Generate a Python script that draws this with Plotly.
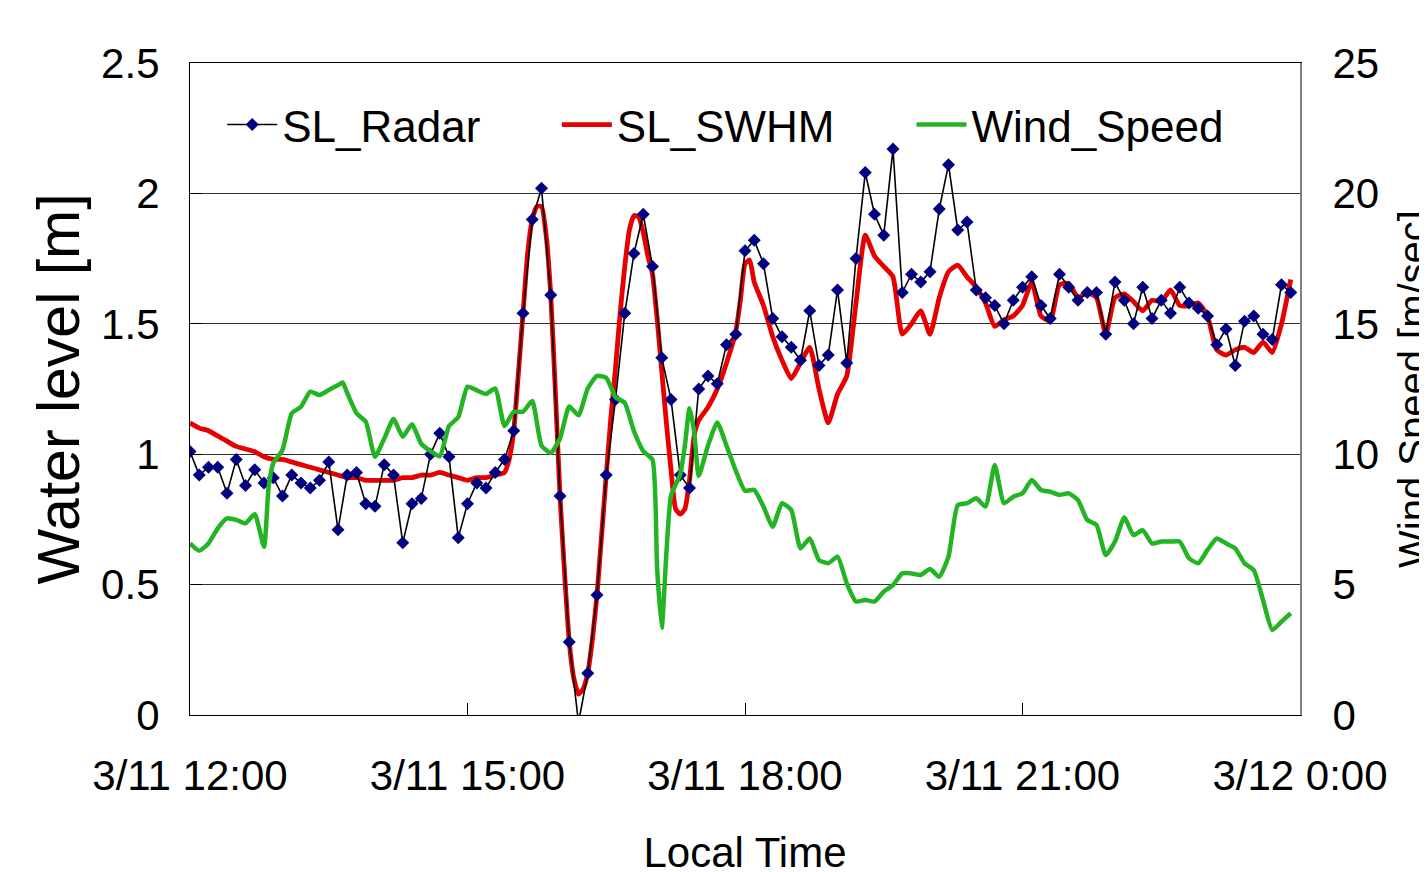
import pandas as pd
import plotly.graph_objects as go

# ---------------- data ----------------
start_time = "2011-03-11 12:00"
end_time = "2011-03-12 00:00"
step_minutes = 6

# SL_Radar water level [m], every 6 minutes from 12:00
radar_level = [
    1.01, 0.92, 0.95, 0.95, 0.85, 0.98, 0.88, 0.94, 0.89, 0.91,
    0.84, 0.92, 0.89, 0.87, 0.90, 0.97, 0.71, 0.92, 0.93, 0.81,
    0.80, 0.96, 0.92, 0.66, 0.81, 0.83, 1.00, 1.08, 0.99, 0.68,
    0.81, 0.89, 0.87, 0.93, 0.98, 1.09, 1.54, 1.90, 2.02, 1.61,
    0.84, 0.28, -0.03, 0.16, 0.46, 0.92, 1.21, 1.54, 1.77, 1.92,
    1.72, 1.37, 1.21, 0.92, 0.87, 1.25, 1.30, 1.27, 1.42, 1.46,
    1.78, 1.82, 1.73, 1.52, 1.45, 1.41, 1.36, 1.55, 1.34, 1.38,
    1.63, 1.35, 1.75, 2.08, 1.92, 1.84, 2.17, 1.62, 1.69, 1.66,
    1.70, 1.94, 2.11, 1.86, 1.89, 1.63, 1.60, 1.57, 1.50, 1.59,
    1.64, 1.68, 1.57, 1.52, 1.69, 1.64, 1.59, 1.62, 1.62, 1.46,
    1.66, 1.59, 1.50, 1.64, 1.52, 1.59, 1.54, 1.64, 1.58, 1.56,
    1.53, 1.42, 1.48, 1.34, 1.51, 1.53, 1.46, 1.44, 1.65, 1.62,
]

# SL_SWHM water level [m]; sample steps (1 step = 6 minutes after 12:00)
swhm_steps = [
    0, 1, 2, 3, 4, 5, 6, 7, 8, 9, 10, 11, 12, 13, 14, 15, 16, 17, 18, 19,
    20, 21, 22, 23, 24, 25, 26, 27, 28, 29, 30, 31, 32, 33, 34, 34.5, 35, 35.5,
    36, 36.5, 37, 37.5, 38, 38.5, 39, 39.5, 40, 40.5, 41, 41.5, 42, 42.5, 43,
    43.5, 44, 44.5, 45, 45.5, 46, 46.5, 47, 47.5, 48, 48.5, 49, 49.5, 50, 50.5,
    51, 51.5, 52, 52.5, 53, 53.5, 54, 54.5, 55, 56, 57, 58, 59, 59.5, 60, 60.5,
    61, 62, 63, 64, 65, 66, 67, 68, 69, 70, 71, 72, 73, 74, 75, 76, 77, 78, 79,
    80, 81, 82, 83, 84, 85, 86, 87, 88, 89, 90, 91, 92, 93, 94, 95, 96, 97, 98,
    99, 100, 101, 102, 103, 104, 105, 106, 107, 108, 109, 110, 111, 112, 113,
    114, 115, 116, 117, 118, 119,
]
swhm_level = [
    1.12, 1.10, 1.09, 1.07, 1.05, 1.03, 1.02, 1.01, 0.99, 0.98, 0.98, 0.97,
    0.96, 0.95, 0.94, 0.93, 0.92, 0.91, 0.91, 0.90, 0.90, 0.90, 0.90, 0.91,
    0.91, 0.92, 0.92, 0.93, 0.92, 0.91, 0.90, 0.91, 0.91, 0.92, 0.93, 0.98,
    1.09, 1.31, 1.54, 1.77, 1.90, 1.95, 1.95, 1.84, 1.61, 1.24, 0.84, 0.54,
    0.28, 0.14, 0.08, 0.10, 0.16, 0.29, 0.46, 0.69, 0.92, 1.14, 1.33, 1.54,
    1.72, 1.86, 1.915, 1.91, 1.85, 1.76, 1.69, 1.52, 1.32, 1.12, 0.94, 0.79,
    0.77, 0.79, 0.90, 1.07, 1.13, 1.18, 1.25, 1.35, 1.47, 1.59, 1.73, 1.745,
    1.66, 1.57, 1.45, 1.36, 1.29, 1.35, 1.41, 1.25, 1.12, 1.23, 1.30, 1.58,
    1.84, 1.76, 1.72, 1.68, 1.46, 1.50, 1.55, 1.46, 1.60, 1.70, 1.725, 1.68,
    1.64, 1.58, 1.49, 1.515, 1.53, 1.57, 1.66, 1.53, 1.51, 1.65, 1.655, 1.60,
    1.62, 1.60, 1.46, 1.60, 1.615, 1.585, 1.55, 1.59, 1.585, 1.63, 1.57, 1.57,
    1.58, 1.53, 1.40, 1.38, 1.40, 1.41, 1.39, 1.43, 1.39, 1.50, 1.67,
]

# Wind speed [m/sec]; sample steps (1 step = 6 minutes after 12:00)
wind_steps = [
    0, 1, 2, 3, 4, 5, 6, 7, 8, 8.5, 9, 10, 11, 12, 13, 14, 15, 16, 16.5, 17,
    18, 19, 20, 21, 22, 23, 24, 25, 26, 27, 28, 29, 30, 31, 32, 33, 34, 35, 36,
    37, 38, 39, 40, 41, 42, 43, 44, 45, 46, 47, 48, 49, 50, 50.5, 51, 51.5, 52,
    53, 53.5, 54, 54.5, 55, 56, 57, 58, 59, 60, 61, 62, 63, 64, 65, 66, 67, 68,
    69, 70, 71, 72, 73, 74, 75, 76, 77, 78, 79, 80, 81, 82, 83, 84, 85, 86, 87,
    88, 89, 90, 91, 92, 93, 94, 95, 96, 97, 98, 99, 100, 101, 102, 103, 104,
    105, 106, 107, 108, 109, 110, 111, 112, 113, 114, 115, 116, 117, 118, 119,
]
wind_speed = [
    6.58, 6.30, 6.58, 7.16, 7.54, 7.48, 7.35, 7.70, 6.45, 8.75, 9.65, 10.16,
    11.57, 11.82, 12.40, 12.27, 12.46, 12.65, 12.75, 12.34, 11.57, 11.25, 9.90,
    10.60, 11.35, 10.67, 11.15, 10.40, 10.12, 9.92, 11.08, 11.42, 12.59, 12.45,
    12.31, 12.52, 11.08, 11.63, 11.63, 12.04, 10.33, 10.05, 10.60, 11.83, 11.49,
    12.52, 13.00, 12.93, 12.18, 11.97, 10.88, 10.12, 9.78, 5.60, 3.35, 6.20,
    8.41, 9.23, 10.33, 11.76, 10.88, 9.17, 10.33, 11.22, 10.33, 9.37, 8.60,
    8.63, 7.99, 7.22, 8.12, 7.86, 6.39, 6.77, 5.94, 5.82, 6.07, 5.05, 4.35,
    4.41, 4.35, 4.73, 4.98, 5.43, 5.43, 5.37, 5.60, 5.30, 6.07, 8.05, 8.12,
    8.31, 7.99, 9.59, 8.12, 8.37, 8.50, 9.01, 8.63, 8.56, 8.44, 8.50, 8.24,
    7.48, 7.29, 6.13, 6.65, 7.57, 6.90, 7.09, 6.58, 6.65, 6.65, 6.65, 6.01,
    5.82, 6.33, 6.77, 6.58, 6.39, 5.82, 5.56, 4.41, 3.26, 3.58, 3.90,
]

tick_times = ["2011-03-11 12:00", "2011-03-11 15:00", "2011-03-11 18:00",
              "2011-03-11 21:00", "2011-03-12 00:00"]
tick_labels = ["3/11 12:00", "3/11 15:00", "3/11 18:00", "3/11 21:00", "3/12 0:00"]

series_names = ["SL_Radar", "SL_SWHM", "Wind_Speed"]

# ---------------- build ----------------
t0 = pd.Timestamp(start_time)
radar_time = [t0 + pd.Timedelta(minutes=step_minutes * i) for i in range(len(radar_level))]
swhm_time = [t0 + pd.Timedelta(minutes=step_minutes * s) for s in swhm_steps]
wind_time = [t0 + pd.Timedelta(minutes=step_minutes * s) for s in wind_steps]

FONT = "Liberation Sans, Arial, sans-serif"

fig = go.Figure()
fig.add_trace(go.Scatter(
    x=wind_time, y=wind_speed, name=series_names[2], yaxis="y2",
    mode="lines", line=dict(color="#22B422", width=4.5, shape="spline", smoothing=0.5),
    legend="legend3",
))
fig.add_trace(go.Scatter(
    x=swhm_time, y=swhm_level, name=series_names[1],
    mode="lines", line=dict(color="#E60000", width=4.8, shape="spline", smoothing=0.5),
    legend="legend2",
))
fig.add_trace(go.Scatter(
    x=radar_time, y=radar_level, name=series_names[0],
    mode="lines+markers", line=dict(color="black", width=1.6),
    marker=dict(symbol="diamond", size=10, color="#000080"), legend="legend",
))

legend_common = dict(
    orientation="h", bgcolor="rgba(0,0,0,0)", borderwidth=0,
    font=dict(family=FONT, size=44, color="black"),
    xanchor="left", yanchor="middle", itemwidth=50,
)

fig.update_layout(
    width=1427, height=872,
    paper_bgcolor="white", plot_bgcolor="white",
    margin=dict(l=182, r=135, t=55, b=165, autoexpand=False),
    font=dict(family=FONT, color="black"),
    showlegend=True,
    legend=dict(**legend_common, x=0.029, y=0.905),
    legend2=dict(**legend_common, x=0.3305, y=0.905),
    legend3=dict(**legend_common, x=0.650, y=0.905),
    xaxis=dict(
        type="date", automargin=False,
        range=[start_time, end_time],
        tickvals=tick_times, ticktext=tick_labels,
        ticks="inside", ticklen=12, tickcolor="black", tickwidth=1,
        tickfont=dict(family=FONT, size=42, color="black"),
        ticklabelstandoff=23,
        showgrid=False, zeroline=False,
        showline=True, linecolor="black", linewidth=1.2, mirror=True,
        title=dict(text="Local Time", font=dict(family=FONT, size=42, color="black"),
                   standoff=40),
    ),
    yaxis=dict(
        range=[0, 2.5], dtick=0.5, tick0=0, automargin=False,
        ticks="inside", ticklen=12, tickcolor="black",
        tickfont=dict(family=FONT, size=42, color="black"),
        ticklabelstandoff=21,
        showgrid=True, gridcolor="#303030", gridwidth=1.2, zeroline=False,
        showline=True, linecolor="black", linewidth=1.2,
        title=dict(text="Water level [m]", font=dict(family=FONT, size=59, color="black"),
                   standoff=2),
    ),
    yaxis2=dict(
        range=[0, 25], dtick=5, tick0=0, overlaying="y", side="right", automargin=False,
        ticks="", showgrid=False, zeroline=False,
        tickfont=dict(family=FONT, size=42, color="black"),
        ticklabelstandoff=22,
        showline=True, linecolor="#808080", linewidth=2,
        title=dict(text="Wind Speed [m/sec]", font=dict(family=FONT, size=40, color="black"),
                   standoff=35),
    ),
)

fig.write_html("out.html")
